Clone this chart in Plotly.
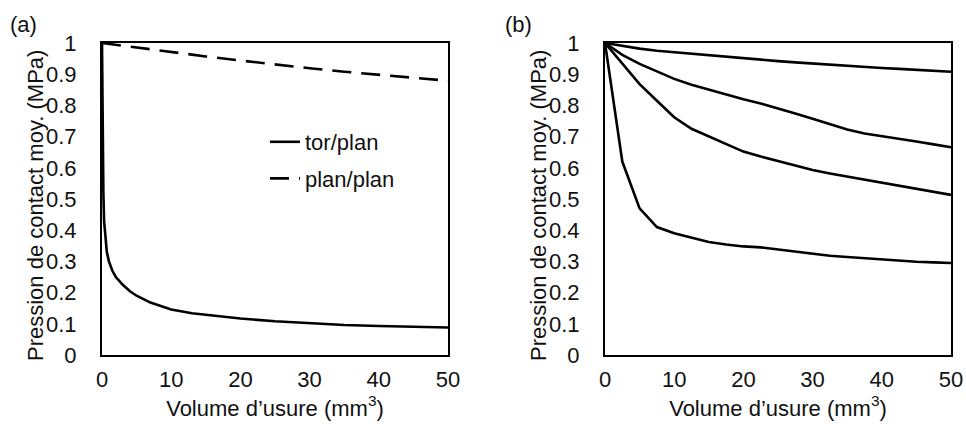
import plotly.graph_objects as go

# ---- Data ----
# Panel (a)
tor_x = [0, 0.05, 0.1, 0.2, 0.3, 0.5, 0.7, 1, 1.5, 2, 3, 4, 5, 7, 10, 13, 16, 20, 25, 30, 35, 40, 45, 50]
tor_y = [1, 0.80, 0.68, 0.52, 0.43, 0.365, 0.33, 0.30, 0.27, 0.25, 0.225, 0.205, 0.19, 0.168, 0.146,
         0.134, 0.126, 0.117, 0.108, 0.101, 0.096, 0.093, 0.090, 0.088]
plan_x = [0, 5, 10, 15, 20, 25, 30, 35, 40, 45, 50]
plan_y = [1, 0.985, 0.970, 0.957, 0.944, 0.931, 0.919, 0.908, 0.898, 0.888, 0.879]

# Panel (b)
b_x = [0, 2.5, 5, 7.5, 10, 12.5, 15, 17.5, 20, 22.5, 25, 27.5, 30, 32.5, 35, 37.5, 40, 42.5, 45, 47.5, 50]
b1_y = [1, 0.99, 0.982, 0.975, 0.97, 0.965, 0.96, 0.955, 0.95, 0.946, 0.942, 0.938, 0.934, 0.93,
        0.927, 0.923, 0.92, 0.917, 0.914, 0.911, 0.908]
b2_y = [1, 0.962, 0.933, 0.908, 0.885, 0.866, 0.85, 0.835, 0.82, 0.806, 0.791, 0.774, 0.757, 0.74,
        0.723, 0.71, 0.702, 0.693, 0.684, 0.675, 0.666]
b3_y = [1, 0.935, 0.868, 0.815, 0.762, 0.725, 0.7, 0.675, 0.652, 0.636, 0.622, 0.607, 0.593, 0.582,
        0.572, 0.561, 0.551, 0.541, 0.532, 0.522, 0.513]
b4_y = [1, 0.62, 0.47, 0.41, 0.39, 0.375, 0.362, 0.354, 0.348, 0.345, 0.338, 0.33, 0.323, 0.318,
        0.314, 0.31, 0.306, 0.302, 0.299, 0.297, 0.295]

y_ticks = [0, 0.1, 0.2, 0.3, 0.4, 0.5, 0.6, 0.7, 0.8, 0.9, 1]
y_ticktext = ["0", "0.1", "0.2", "0.3", "0.4", "0.5", "0.6", "0.7", "0.8", "0.9", "1"]
x_ticks = [0, 10, 20, 30, 40, 50]

x_title = "Volume d’usure (mm<sup>3</sup>)"
y_title = "Pression de contact moy. (MPa)"

FONT = "Arial, 'Liberation Sans', sans-serif"
TXT = "#111111"
FS = 22
W, H = 966, 426

def px(xs):        # screen x -> paper fraction
    return xs / W

def py(ys):        # screen y -> paper fraction
    return 1 - ys / H

fig = go.Figure()

lw = 2.6
fig.add_trace(go.Scatter(x=tor_x, y=tor_y, mode="lines", name="tor/plan",
                         line=dict(color="black", width=lw), xaxis="x", yaxis="y",
                         legendgroup="a1"))
fig.add_trace(go.Scatter(x=plan_x, y=plan_y, mode="lines", name="plan/plan",
                         line=dict(color="black", width=lw, dash="19px,10px"), xaxis="x", yaxis="y",
                         legendgroup="a2"))
for yy in (b1_y, b2_y, b3_y, b4_y):
    fig.add_trace(go.Scatter(x=b_x, y=yy, mode="lines", showlegend=False,
                             line=dict(color="black", width=lw), xaxis="x2", yaxis="y2"))

ydom = [py(355), py(43)]

def xax(dom):
    return dict(domain=dom, range=[0, 50], tickvals=x_ticks, showgrid=False, zeroline=False,
                showline=True, linecolor="black", linewidth=2, mirror=True, ticks="",
                automargin=False,
                ticklabelstandoff=4, tickfont=dict(size=FS, color=TXT, family=FONT),
                title=dict(text=x_title, font=dict(size=FS, color=TXT, family=FONT), standoff=8))

def yax(dom_anchor):
    return dict(domain=ydom, range=[0, 1], tickvals=y_ticks, ticktext=y_ticktext, showgrid=False,
                zeroline=False, showline=True, linecolor="black", linewidth=2, mirror=True, ticks="",
                automargin=False,
                ticklabelstandoff=19, tickfont=dict(size=FS, color=TXT, family=FONT),
                anchor=dom_anchor)

ann_font = dict(size=FS, color=TXT, family=FONT)
fig.update_layout(
    width=W, height=H,
    margin=dict(l=0, r=0, t=0, b=0, autoexpand=False),
    paper_bgcolor="white", plot_bgcolor="white",
    font=dict(family=FONT, size=FS, color=TXT),
    xaxis=dict(**xax([px(102), px(448)]), anchor="y"),
    yaxis=yax("x"),
    xaxis2=dict(**xax([px(605), px(951)]), anchor="y2"),
    yaxis2=yax("x2"),
    showlegend=True,
    legend=dict(x=px(265), y=py(121), xanchor="left", yanchor="top",
                bgcolor="rgba(0,0,0,0)", font=ann_font,
                tracegroupgap=5, traceorder="grouped"),
    annotations=[
        dict(text="(a)", x=px(8), y=py(25), xref="paper", yref="paper", xanchor="left",
             yanchor="middle", showarrow=False, font=ann_font),
        dict(text="(b)", x=px(503), y=py(25), xref="paper", yref="paper", xanchor="left",
             yanchor="middle", showarrow=False, font=ann_font),
        dict(text=y_title, x=px(35), y=py(206), xref="paper", yref="paper", xanchor="center",
             yanchor="middle", textangle=-90, showarrow=False, font=ann_font),
        dict(text=y_title, x=px(538), y=py(206), xref="paper", yref="paper", xanchor="center",
             yanchor="middle", textangle=-90, showarrow=False, font=ann_font),
    ],
)

fig.write_html("out.html", config={"displayModeBar": False},
               post_script="document.body.style.margin='0';document.body.style.overflow='hidden';")
